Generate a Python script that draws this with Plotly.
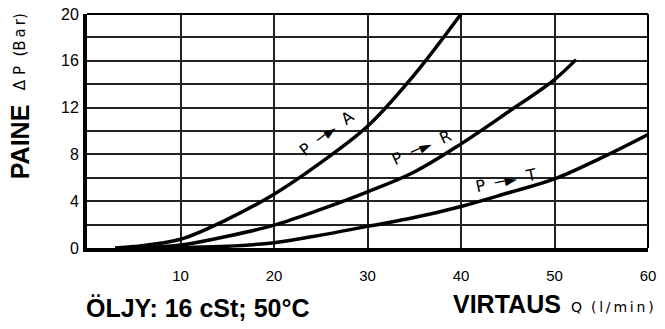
import plotly.graph_objects as go

# flow Q (l/min) and pressure drop (bar)
q_a = [3, 5, 10, 15, 20, 25, 30, 35, 40]
dp_a = [0, 0.12, 0.75, 2.45, 4.6, 7.3, 10.4, 14.8, 20.0]

q_r = [5, 10, 15, 20, 25, 30, 35, 40, 45, 50, 52.3]
dp_r = [0, 0.25, 1.0, 1.95, 3.3, 4.8, 6.5, 8.9, 11.6, 14.4, 16.1]

q_t = [7, 10, 15, 20, 25, 30, 35, 40, 45, 50, 55, 60]
dp_t = [0, 0.05, 0.15, 0.45, 1.1, 1.85, 2.6, 3.55, 4.7, 5.9, 7.7, 9.7]

x_ticks = [10, 20, 30, 40, 50, 60]
y_ticks = [0, 4, 8, 12, 16, 20]
y_minor = [2, 6, 10, 14, 18]

fig = go.Figure()
for q, dp in [(q_a, dp_a), (q_r, dp_r), (q_t, dp_t)]:
    fig.add_trace(go.Scatter(x=q, y=dp, mode='lines', line=dict(color='black', width=3.5, shape='spline'),
                             showlegend=False, hoverinfo='skip'))

# curve labels
lbl_font = dict(family='DejaVu Sans', size=16, color='black')
fig.add_annotation(x=25.6, y=9.8, text='P  ─►  A', showarrow=False, textangle=-37, font=lbl_font)
fig.add_annotation(x=35.8, y=8.6, text='P  ─►  R', showarrow=False, textangle=-24, font=lbl_font)
fig.add_annotation(x=44.8, y=5.8, text='P  ─►  T', showarrow=False, textangle=-12, font=lbl_font)

# axis texts
bold = dict(family='Liberation Sans', size=25, color='black')
small = dict(family='DejaVu Sans', size=15, color='black')
ts = '\u2009'
fig.add_annotation(xref='paper', yref='paper', x=-0.119, y=0.453, xanchor='center', yanchor='middle',
                   textangle=-90, showarrow=False, text='<b>PAINE</b>', font=bold)
fig.add_annotation(xref='paper', yref='paper', x=-0.119, y=0.838, xanchor='center', yanchor='middle',
                   textangle=-90, showarrow=False, text='Δ P  (' + ts.join('Bar') + ')', font=small)
fig.add_annotation(xref='paper', yref='paper', x=-0.006, y=-0.256, xanchor='left', yanchor='middle',
                   showarrow=False, text='<b>ÖLJY: 16 cSt; 50°C</b>', font=bold)
fig.add_annotation(xref='paper', yref='paper', x=0.749, y=-0.239, xanchor='center', yanchor='middle',
                   showarrow=False, text='<b>VIRTAUS</b>', font=bold)
fig.add_annotation(xref='paper', yref='paper', x=0.859, y=-0.251, xanchor='left', yanchor='middle',
                   showarrow=False, text='Q  ' + ts.join('(l/min)'), font=dict(family='DejaVu Sans', size=14))

# thin top / right frame
fig.add_shape(type='line', xref='paper', yref='paper', x0=0, x1=1, y0=1, y1=1, line=dict(color='black', width=2))
fig.add_shape(type='line', xref='paper', yref='paper', x0=1, x1=1, y0=0, y1=1, line=dict(color='black', width=2))

# the page body adds an 8px margin, so keep the figure small enough to avoid scrollbars
fig.update_layout(
    width=649, height=313,
    margin=dict(l=79, r=9, t=6, b=73),
    paper_bgcolor='white', plot_bgcolor='white',
    font=dict(family='Liberation Sans', size=15, color='black'),
    xaxis=dict(range=[0, 60], tickvals=x_ticks, showgrid=True, gridcolor='#222', gridwidth=1.5,
               showline=True, linecolor='black', linewidth=4, ticks='', ticklabelstandoff=11,
               ticklabeloverflow='allow', zeroline=False, automargin=False),
    yaxis=dict(range=[0, 20], tickvals=y_ticks, showgrid=True, gridcolor='#222', gridwidth=1.5,
               minor=dict(tickvals=y_minor, showgrid=True, gridcolor='#222', gridwidth=1.5),
               showline=True, linecolor='black', linewidth=4, ticks='', ticklabelstandoff=1,
               ticklabeloverflow='allow', zeroline=False, automargin=False, tickfont=dict(size=16)),
)

fig.write_html("out.html")
